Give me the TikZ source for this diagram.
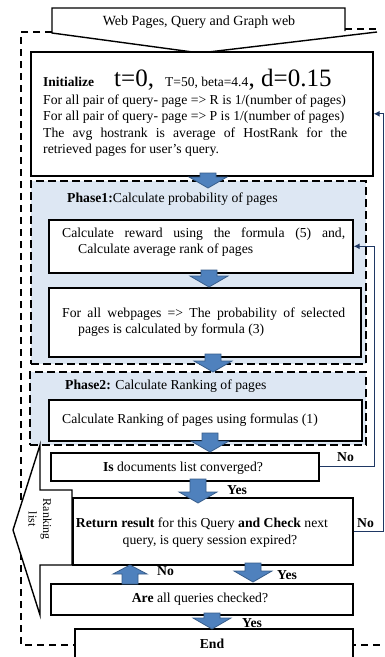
\documentclass[tikz,border=0pt]{standalone}
\usepackage{fontspec}
\setmainfont{Liberation Serif}
\usetikzlibrary{arrows.meta,calc}
\definecolor{arrfill}{RGB}{79,129,189}
\definecolor{arrdraw}{RGB}{56,93,138}
\definecolor{phasefill}{RGB}{221,231,243}
\definecolor{fbline}{RGB}{31,56,100}
\newcommand\fsz{\fontsize{13.7}{16}\selectfont}
\newcommand\blkdown[3]{\filldraw[blk] (#1-8,#2) -- (#1+8,#2) -- (#1+8,#3-11) -- (#1+19,#3-11) -- (#1,#3) -- (#1-19,#3-11) -- (#1-8,#3-11) -- cycle;}
\newcommand\blkup[3]{\filldraw[blk] (#1-8,#2) -- (#1+8,#2) -- (#1+8,#3+9) -- (#1+17,#3+9) -- (#1,#3) -- (#1-17,#3+9) -- (#1-8,#3+9) -- cycle;}
\begin{document}
\begin{tikzpicture}[x=1pt,y=-1pt,
 box/.style={draw=black,line width=1.6pt,fill=white,anchor=north west,inner sep=0pt},
 txt/.style={inner sep=0pt,anchor=base west,font=\fsz},
 ctxt/.style={inner sep=0pt,anchor=base,font=\fsz},
 blk/.style={fill=arrfill,draw=arrdraw,line width=0.8pt},
 phase/.style={draw=black,line width=2pt,dash pattern=on 8pt off 4pt,fill=phasefill,anchor=north west,inner sep=0pt},
 frame/.style={draw=black,line width=1.3pt,dash pattern=on 7pt off 5pt},
 fb/.style={draw=fbline,line width=1.2pt,-{Latex[length=6pt,width=6pt]}},
 lbl/.style={inner sep=0pt,anchor=base west,font=\fsz\bfseries}]
\useasboundingbox (0,0) rectangle (385,657);
\clip (0,0) rectangle (385,657);

% outer dashed frame
\draw[frame] (52,32) -- (21,32) -- (21,645) -- (385,645);

% top callout
\fill[white] (52,8) -- (345,8) -- (345,31) -- (377,32) -- (200,53) -- (52,33) -- cycle;
\draw[line width=1.4pt,line join=miter] (345,31) -- (345,8) -- (52,8) -- (52,33) -- (200,53) -- (377,32);
\draw[frame] (345,29) -- (378,29);
\node[ctxt,font=\fontsize{14}{16}\selectfont] (cin) at (199,25) {Web Pages, Query and Graph web};

% initialize box
\node[box,minimum width=342pt,minimum height=124pt] (init) at (30,51) {};
\node[txt,font=\fontsize{13.5}{15}\selectfont\bfseries] (i0a) at (43,86) {Initialize};
\node[txt,font=\fontsize{25}{27}\selectfont] (i0b) at (114,86) {t=0,};
\node[txt,font=\fontsize{13.5}{15}\selectfont] (i0c) at (165,86) {T=50, beta=4.4};
\node[txt,font=\fontsize{25}{27}\selectfont] (i0d) at (i0c.base east) {, d=0.15};
\node[txt] (i1) at (43,104) {For all pair of query- page => R is 1/(number of pages)};
\node[txt] (i2) at (43,120) {For all pair of query- page => P is 1/(number of pages)};
\node[txt] (i3) at (43,137) {\makebox[304pt][s]{The avg hostrank is average of HostRank for the}};
\node[txt] (i4) at (43,153) {retrieved pages for user’s query.};

% phase 1
\node[phase,minimum width=335pt,minimum height=183pt] (ph1) at (30,180) {};
\node[txt] (t1) at (67,202) {\textbf{Phase1:}Calculate probability of pages};
\node[box,minimum width=304pt,minimum height=53pt] (calc) at (48,219) {};
\node[txt] (c1) at (62,237) {\makebox[283pt][s]{Calculate reward using the formula (5) and,}};
\node[txt] (c2) at (78,253) {Calculate average rank of pages};
\node[box,minimum width=312pt,minimum height=69pt] (prob) at (48,287) {};
\node[txt] (p1) at (62,317) {\makebox[283pt][s]{For all webpages => The probability of selected}};
\node[txt] (p2) at (78,333) {pages is calculated by formula (3)};

% phase 2
\node[phase,minimum width=336pt,minimum height=73pt] (ph2) at (29,371) {};
\node[txt] (t2) at (65,389) {\textbf{Phase2:} Calculate Ranking of pages};
\node[box,minimum width=313pt,minimum height=41pt] (rank) at (48,399) {};
\node[txt] (r1) at (62,423) {Calculate Ranking of pages using formulas (1)};

% converged
\node[box,minimum width=268pt,minimum height=28pt] (conv) at (50,452) {};
\node[ctxt] (cv) at (183,471) {\textbf{Is} documents list converged?};

% ranking list callout
\filldraw[fill=white,draw=black,line width=1.4pt] (72,490) -- (40,490) -- (40,445) -- (13,530) -- (40,615) -- (40,565) -- (72,565) -- cycle;
\node[inner sep=0pt,rotate=-90,align=center,font=\fontsize{12}{14.5}\selectfont] (rk) at (40,519) {Ranking\\list};

% return box
\node[box,minimum width=280pt,minimum height=67pt] (ret) at (72,497) {};
\node[ctxt] (rt1) at (202,527) {\textbf{Return result} for this Query \textbf{and Check} next};
\node[ctxt] (rt2) at (210,544) {query, is query session expired?};

% all queries
\node[box,minimum width=302pt,minimum height=31pt] (are) at (50,583) {};
\node[ctxt] (ar) at (200,602) {\textbf{Are} all queries checked?};

% end
\node[box,minimum width=278pt,minimum height=45pt] (endb) at (74,628) {};
\node[ctxt] (en) at (212,648) {\textbf{End}};

% block arrows
\blkdown{208}{173}{188}
\blkdown{209}{270}{287}
\blkdown{213}{354}{372}
\blkdown{210}{433}{452}
\blkdown{198}{479}{503}
\blkup{130}{584}{565}
\blkdown{253}{563}{582}
\blkdown{212}{613}{629}

% feedback connectors
\draw[fb] (conv.east) -- ++(55,0) |- (calc.east);
\draw[fb] (ret.east) -- ++(30,0) |- (init.east);

% labels
\node[lbl] (n1) at (337,461) {No};
\node[lbl] (n2) at (357,527) {No};
\node[lbl] (y1) at (227,494) {Yes};
\node[lbl] (n3) at (157,575) {No};
\node[lbl] (y2) at (277,579) {Yes};
\node[lbl] (y3) at (242,627) {Yes};
\end{tikzpicture}
\end{document}
